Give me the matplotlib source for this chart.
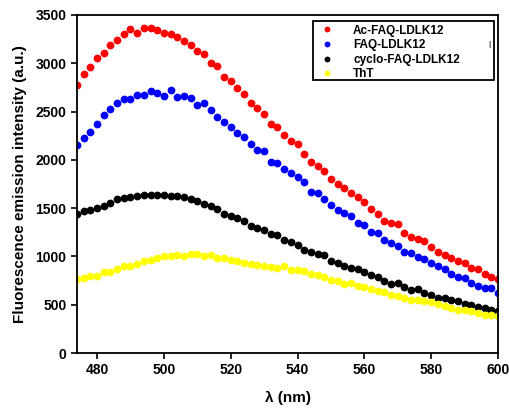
import numpy as np
import matplotlib.pyplot as plt
from matplotlib.patches import Rectangle

plt.rcParams['font.family'] = ['Liberation Sans', 'DejaVu Sans']
plt.rcParams['font.weight'] = 'bold'

# wavelength (nm), one reading every 2 nm
wl = np.arange(474, 601, 2)

ac_faq = [2770, 2891, 2960, 3054, 3109, 3185, 3244, 3303, 3351, 3317,
          3365, 3365, 3344, 3317, 3303, 3275, 3227, 3192, 3130, 3095,
          2998, 2974, 2863, 2818, 2746, 2677, 2590, 2534, 2475, 2371,
          2337, 2257, 2192, 2161, 2057, 1981, 1936, 1885, 1802, 1747,
          1712, 1660, 1618, 1567, 1488, 1436, 1367, 1343, 1336, 1246,
          1204, 1177, 1157, 1101, 1043, 1015, 981, 956, 929, 877,
          867, 818, 784, 763]

faq = [2157, 2230, 2292, 2376, 2469, 2524, 2593, 2625, 2635, 2670,
       2673, 2715, 2694, 2666, 2721, 2652, 2666, 2642, 2566, 2593,
       2521, 2448, 2396, 2337, 2279, 2237, 2161, 2106, 2095, 1981,
       1964, 1902, 1867, 1819, 1774, 1670, 1654, 1595, 1533, 1481,
       1453, 1419, 1349, 1325, 1256, 1239, 1170, 1142, 1108, 1049,
       1032, 997, 970, 929, 901, 867, 818, 790, 780, 728,
       694, 676, 670, 624]

cyclo = [1442, 1466, 1483, 1505, 1525, 1550, 1595, 1610, 1618, 1625,
         1632, 1640, 1640, 1632, 1625, 1630, 1615, 1598, 1575, 1546,
         1518, 1490, 1442, 1421, 1397, 1362, 1311, 1294, 1269, 1232,
         1225, 1173, 1145, 1121, 1062, 1041, 1025, 1018, 948, 932,
         904, 880, 870, 834, 811, 787, 741, 717, 725, 683,
         655, 663, 621, 604, 569, 569, 552, 534, 510, 500,
         476, 466, 441, 431]

tht = [766, 776, 793, 800, 834, 841, 870, 897, 904, 924,
       948, 966, 983, 1000, 1007, 1014, 1007, 1021, 1028, 1007,
       1010, 979, 979, 966, 952, 932, 924, 914, 897, 886,
       880, 897, 862, 855, 845, 821, 811, 787, 759, 741,
       717, 725, 697, 683, 663, 638, 627, 604, 586, 569,
       552, 552, 534, 524, 510, 490, 466, 441, 448, 431,
       414, 396, 396, 379]

names = ['Ac-FAQ-LDLK12', 'FAQ-LDLK12', 'cyclo-FAQ-LDLK12', 'ThT']
colors = ['#ff0000', '#0000ff', '#000000', '#ffff00']

fig = plt.figure(figsize=(5.09, 4.12), dpi=100)
ax = fig.add_axes([0.1513, 0.1432, 0.8271, 0.8204])

for ys, name, c in zip([ac_faq, faq, cyclo, tht], names, colors):
    ax.plot(wl, ys, 'o', color=c, markersize=5.6, markeredgewidth=0, label=name)

ax.set_xlim(474, 600)
ax.set_ylim(0, 3500)
ax.set_xticks(range(480, 601, 20))
ax.set_yticks(range(0, 3501, 500))
ax.tick_params(axis='both', direction='out', length=4, width=1.2, labelsize=10)
ax.tick_params(top=False, right=False)
for s in ax.spines.values():
    s.set_linewidth(1.3)

ax.set_xlabel('λ (nm)', fontsize=11, fontweight='bold', labelpad=10)
ax.set_ylabel('Fluorescence emission intensity (a.u.)', fontsize=11,
              fontweight='bold', labelpad=6)

# legend box drawn by hand so it can be wider than the text
box = Rectangle((0.5606, 0.8077), 0.4299, 0.1743, transform=ax.transAxes,
                facecolor='white', edgecolor='black', linewidth=1.3, zorder=4)
ax.add_patch(box)
leg = ax.legend(loc='upper left', bbox_to_anchor=(0.5606, 0.982),
                fontsize=8.5, frameon=False, markerscale=0.75,
                handletextpad=1.3, borderpad=0.3, labelspacing=0.22,
                handlelength=1.8, borderaxespad=0)
leg.set_zorder(5)
for t in leg.get_texts():
    t.set_fontweight('bold')
ax.text(0.981, 0.914, '|', transform=ax.transAxes, fontsize=6,
        color='#555555', ha='center', va='center', zorder=6)

plt.savefig('out.png', dpi=100)
